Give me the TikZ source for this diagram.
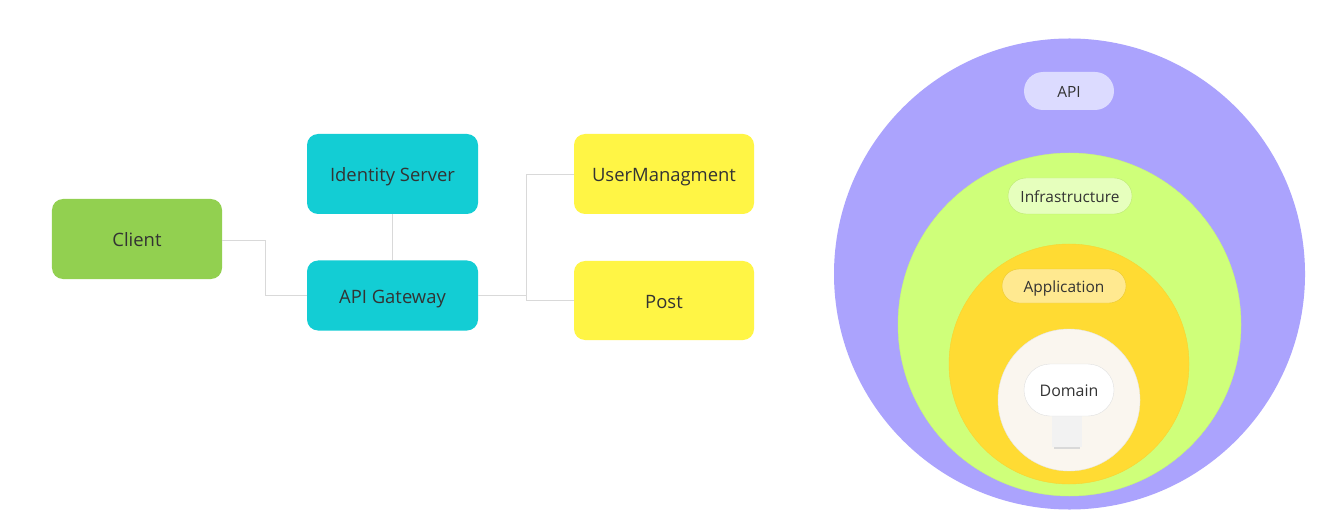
\documentclass[tikz,border=0pt]{standalone}
\usepackage{fontspec}
\setmainfont{Open Sans}
\definecolor{txt}{HTML}{333333}
\definecolor{cgreen}{HTML}{92D050}
\definecolor{cteal}{HTML}{13CDD4}
\definecolor{cyellow}{HTML}{FFF545}
\definecolor{line}{HTML}{D9D9D9}
\definecolor{cpurple}{HTML}{ABA3FD}
\definecolor{clime}{HTML}{CFFF7A}
\definecolor{cgold}{HTML}{FFDB33}
\definecolor{ccream}{HTML}{FAF6EF}
\definecolor{pillapi}{HTML}{DCDBFF}
\definecolor{pillinf}{HTML}{E6FFBD}
\definecolor{pillapp}{HTML}{FFE990}
\begin{document}
\begin{tikzpicture}[x=1bp,y=-1bp,
  box/.style={rounded corners=11bp, minimum width=171bp, minimum height=80bp, inner sep=0pt, text=txt, font=\fontsize{18.5}{22}\selectfont, text height=16bp, text depth=1bp},
  conn/.style={draw=line, line width=0.8bp},
  pill/.style={rounded corners=17bp, inner sep=0pt, text=txt, font=\fontsize{15.5}{18}\selectfont, text height=13.5bp, text depth=0.5bp},
  ring/.style={circle, inner sep=0pt}
]
\useasboundingbox (0,0) rectangle (1321,528);
\fill[white] (0,0) rectangle (1321,528);
% left diagram
\node[box, fill=cgreen, minimum width=170bp] (client) at (137,239) {Client};
\node[box, fill=cteal] (ids) at (392.5,174) {Identity Server};
\node[box, fill=cteal, minimum height=70bp] (gw) at (392.5,295.5) {API Gateway};
\node[box, fill=cyellow, minimum width=180bp] (um) at (664,174) {UserManagment};
\node[box, fill=cyellow, minimum width=180bp, minimum height=79bp] (post) at (664,300.5) {Post};
\coordinate (j1) at (265,240);
\coordinate (j2) at (526,295);
\draw[conn] (client.east |- j1) -| (265,295) -- (gw.west |- 0,295);
\draw[conn] (ids.south) -- (gw.north);
\draw[conn] (gw.east |- j2) -- (j2) |- (um.west |- 0,174);
\draw[conn] (j2) |- (post.west |- 0,300);
% onion
\node[ring, fill=cpurple, minimum size=471bp] (api) at (1069.5,274) {};
\node[ring, fill=clime, draw=clime!85!black!20!clime, minimum size=343bp] (infra) at (1069.5,324.5) {};
\node[ring, fill=cgold, draw=cgold!90!black!30!cgold, minimum size=240bp] (app) at (1069,364) {};
\node[ring, fill=ccream, draw=black!10, minimum size=142bp] (dom) at (1069,400) {};
\node[pill, fill=pillapi, minimum width=90bp, minimum height=38bp, rounded corners=19bp] (papi) at (1069,91) {API};
\node[pill, fill=pillinf, draw=clime!70!black!30!clime, minimum width=124bp, minimum height=36bp, rounded corners=18bp] (pinf) at (1070,196) {Infrastructure};
\node[pill, fill=pillapp, draw=cgold!60!black!20!cgold, minimum width=124bp, minimum height=34bp] (papp) at (1064,286) {Application};
\fill[black!15] (1054,421) rectangle (1080,448.5);
\node[fill=black!5, minimum width=30bp, minimum height=32bp, inner sep=0pt] (stub) at (1067,431) {};
\node[pill, fill=white, draw=black!12, minimum width=90bp, minimum height=52bp, rounded corners=26bp, font=\fontsize{16}{19}\selectfont] (pdom) at (1069,390) {Domain};
\end{tikzpicture}
\end{document}
